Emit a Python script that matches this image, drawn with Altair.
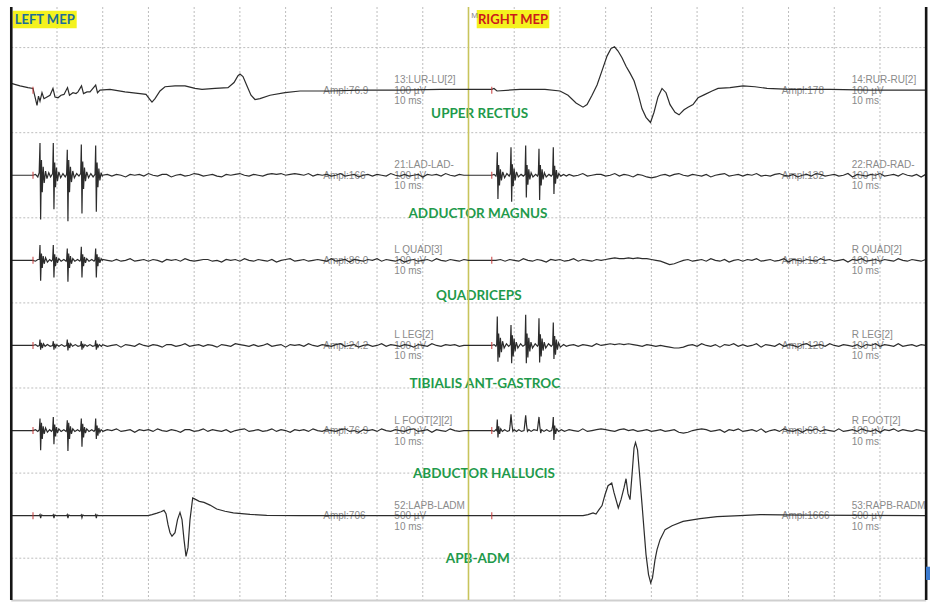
import altair as alt
import numpy as np
import pandas as pd

# ---------------------------------------------------------------------------
# Display geometry: time in ms (10 ms / division, two 100 ms sweeps side by side)
# vertical position in divisions counted downward from the first grid line
# ---------------------------------------------------------------------------
W, H = 931, 602
T_MIN, T_MAX = -2.467, 201.16
R_TOP, R_BOTTOM = -0.5593, 6.5147
FRAME_TOP, FRAME_BOTTOM = -0.477, 6.491
SWEEP_END = 200.0
STIM_LEFT, STIM_RIGHT = 4.75, 105.08

GRID_T = [10, 20, 30, 40, 50, 60, 70, 80, 90, 110, 120, 130, 140, 150, 160, 170, 180, 190]
GRID_R = [0, 1, 2, 3, 4, 5, 6]

# channel annotations
LEFT_NAMES = ["13:LUR-LU[2]", "21:LAD-LAD-", "L QUAD[3]", "L LEG[2]", "L FOOT[2][2]", "52:LAPB-LADM"]
RIGHT_NAMES = ["14:RUR-RU[2]", "22:RAD-RAD-", "R QUAD[2]", "R LEG[2]", "R FOOT[2]", "53:RAPB-RADM"]
SENS_UV = [100, 100, 100, 100, 100, 500]
AMPL_LEFT = ["Ampl:76.9", "Ampl:166", "Ampl:86.0", "Ampl:24.2", "Ampl:76.9", "Ampl:706"]
AMPL_RIGHT = ["Ampl:178", "Ampl:132", "Ampl:16.1", "Ampl:120", "Ampl:60.1", "Ampl:1666"]
MUSCLES = ["UPPER RECTUS", "ADDUCTOR MAGNUS", "QUADRICEPS", "TIBIALIS ANT-GASTROC",
           "ABDUCTOR HALLUCIS", "APB-ADM"]
MUSCLE_T = [102.45, 102.08, 102.26, 103.57, 103.39, 102.04]
MUSCLE_R = [0.78, 1.95, 2.92, 3.95, 5.01, 6.01]

# ---------------------------------------------------------------------------
# Waveforms: (time ms, amplitude µV)
# ---------------------------------------------------------------------------
UR_LEFT = [(0.0, 8), (1.91, 5), (3.66, 3), (4.75, 2), (5.19, -8), (5.63, -18), (5.95, -7),
           (6.28, -13), (6.72, -3), (7.16, -10), (7.81, -8), (8.47, -6), (9.12, 2), (9.56, -8),
           (10.22, -9), (10.88, -6), (11.53, -5), (12.30, 3), (12.73, -6), (13.50, -3),
           (14.16, -4), (14.59, -2), (15.36, 5), (15.80, -4), (16.56, -2), (17.22, -2),
           (18.46, 6), (18.86, -3), (19.41, 0), (21.59, 1), (24.87, -2), (28.15, -4),
           (29.47, -5), (30.34, -11), (30.78, -14), (31.44, -10), (32.53, -1), (33.62, 4),
           (35.81, 5), (38.00, 5), (40.19, 2), (41.72, 1), (44.56, 2), (47.40, 3), (48.72, 9),
           (49.59, 17), (50.03, 19), (50.68, 16), (51.56, 5), (52.43, -6), (53.31, -11),
           (54.40, -10), (56.59, -6), (59.87, -3), (63.15, -1), (69.71, -1), (76.27, 0),
           (85.02, 0), (93.77, 1), (99.89, 1)]
UR_RIGHT = [(104.71, 1), (105.08, 1), (105.58, 2), (106.24, -1), (111.27, 1), (116.73, 1),
            (120.02, -1), (121.77, -6), (123.52, -15), (125.05, -20), (125.93, -17),
            (127.02, -6), (128.12, 6), (129.21, 23), (130.30, 40), (131.18, 49), (131.94, 51),
            (132.71, 46), (133.58, 38), (134.46, 28), (135.33, 20), (136.21, 11), (137.08, -4),
            (137.96, -22), (138.83, -32), (139.81, -38), (140.58, -26), (141.45, -8),
            (142.33, 2), (143.20, -3), (144.08, -17), (145.17, -26), (146.05, -29),
            (147.14, -23), (148.02, -20), (149.11, -17), (150.21, -9), (151.74, -5),
            (153.27, -1), (154.58, 2), (157.20, 3), (160.05, 5), (162.67, 4), (165.30, 2),
            (170.33, 1), (179.08, 1), (187.83, 0), (200.0, 0)]

AD_BURST_L = [(0.0, 0), (4.75, 0), (5.3, 1), (5.8, -2),
              (6.1, 3), (6.28, 38), (6.42, -52), (6.6, 18), (6.78, -20), (6.98, 10), (7.2, -9),
              (7.5, 5), (7.8, -4), (8.2, 3), (8.6, -2),
              (9.05, 2), (9.19, 38), (9.33, -40), (9.5, 15), (9.68, -14), (9.88, 9), (10.1, -7),
              (10.4, 4), (10.8, -3), (11.3, 2), (11.8, -2),
              (12.1, 1), (12.25, 30), (12.39, -54), (12.56, 18), (12.74, -20), (12.94, 10),
              (13.16, -8), (13.45, 5), (13.8, -3), (14.3, 2), (14.8, -1),
              (15.18, 2), (15.32, 36), (15.46, -45), (15.63, 16), (15.81, -16), (16.01, 9),
              (16.23, -7), (16.5, 4), (16.9, -3), (17.4, 2), (17.9, -2),
              (18.32, 1), (18.46, 35), (18.6, -43), (18.77, 15), (18.95, -14), (19.15, 8),
              (19.37, -6), (19.65, 3), (19.9, -1)]
AD_NOISE_L = [0, 1, -1, 1, 0, -2, 1, 0, 1, -1, 2, 0, -1, 1, 1, -2, 0, 1, -1, 0,
              2, 1, -1, 0, 1, -1, -2, 1, 0, 1, 2, 0, -1, 1, 0, -1, 1, 2, 1, 2,
              0, 1, 2, 1, 0, 2, -1, 1, 0, 1, -1, 0, 2, -1, 0, 1, -2, 0, 1, -1,
              1, 0, -1, 2, 0, -1, 1, -1, 0, 1, -2, 1, 0, 1, -1, 2, 0, -1, 1, 0]
AD_BURST_R = [(100.0, 0), (105.08, 0), (105.6, 1), (106.0, -1),
              (106.15, 2), (106.3, 27), (106.44, -28), (106.6, 12), (106.78, -12), (106.98, 7),
              (107.2, -6), (107.5, 4), (107.9, -3), (108.4, 2), (108.9, -1),
              (109.15, 2), (109.3, 33), (109.44, -31), (109.6, 13), (109.78, -13), (109.98, 8),
              (110.2, -6), (110.5, 4), (110.9, -2), (111.5, 1), (112.0, -1),
              (112.37, 1), (112.51, 35), (112.65, -26), (112.81, 12), (112.99, -11),
              (113.19, 7), (113.41, -5), (113.7, 3), (114.1, -2), (114.7, 1), (115.1, -1),
              (115.28, 2), (115.42, 31), (115.56, -29), (115.72, 12), (115.9, -12), (116.1, 7),
              (116.32, -5), (116.6, 3), (117.0, -2), (117.6, 1), (118.1, -1),
              (118.41, 1), (118.55, 33), (118.69, -22), (118.85, 11), (119.03, -10),
              (119.23, 6), (119.45, -4), (119.75, 2), (120.2, -1), (120.8, 1), (121.4, -1)]
AD_NOISE_R = [1, -1, 0, 2, -1, 0, 1, 1, -1, 0, 2, -1, 1, 0, -2, 1, 0, -2, -3, -2,
              0, 1, -1, 1, 2, 0, -1, 1, 0, -1, 1, -2, 0, 1, 2, -1, 0, 1, -1, 1,
              0, 2, -1, 0, -1, 1, 2, 0, -1, 1, -2, 0, 1, -1, 2, 1, -1, 0, 1, -1,
              0, 2, -2, 1, 0, -1, 1, 0, 2, -1, 0, 1, -1, 2, 0, -1, 1, -2, 1]

QD_BURST_L = [(0.0, 0), (4.75, 0), (5.3, -1), (5.8, 1),
              (6.14, 1), (6.28, 18), (6.42, -24), (6.6, 8), (6.78, -9), (6.98, 5), (7.2, -4),
              (7.5, 3), (7.9, -2), (8.4, 1), (8.8, -1),
              (9.05, 1), (9.19, 18), (9.33, -20), (9.5, 7), (9.68, -7), (9.88, 4), (10.1, -3),
              (10.4, 2), (10.9, -1), (11.5, 1), (12.0, -1),
              (12.11, 1), (12.25, 14), (12.39, -25), (12.56, 8), (12.74, -9), (12.94, 5),
              (13.16, -4), (13.45, 2), (13.9, -1), (14.5, 1), (15.0, -1),
              (15.18, 1), (15.32, 16), (15.46, -20), (15.63, 7), (15.81, -7), (16.01, 4),
              (16.23, -3), (16.5, 2), (17.0, -1), (17.6, 1), (18.1, -1),
              (18.32, 1), (18.46, 14), (18.6, -20), (18.77, 7), (18.95, -7), (19.15, 4),
              (19.37, -3), (19.65, 2), (19.9, 0)]
QD_NOISE_L = [1, 0, -1, 1, -1, 0, 2, -1, 0, 1, -1, 1, 0, -2, 1, 0, 1, -1, 2, 0,
              -1, 0, 1, 1, -1, 0, -2, 1, 0, 1, -1, 2, 0, -1, 1, 0, -1, 1, -2, 0,
              1, 2, -1, 0, 1, -1, 0, 1, 0, -1, 2, -1, 0, 1, -2, 1, 0, -1, 1, 0,
              2, -1, 1, 0, -1, 1, -2, 0, 1, -1, 0, 1, -1, 2, 0, -1, 1, 0, -1, 1]
QD_BURST_R = [(100.0, 0), (105.08, 0)]
QD_NOISE_R = [0, 1, -1, 1, 0, -1, 2, 0, -1, 1, 0, -2, 1, 0, 1, -1, 0, 2, -1, 1,
              0, -1, 1, 0, 1, 2, 3, 2, 2, 3, 2, 3, 2, 2, 1, 0, -1, -3, -5, -4,
              -2, 0, 1, -1, 0, 1, -1, 2, 0, -1, 1, -2, 0, 1, -1, 1, 0, 2, -1, 0,
              1, -1, 0, 2, -2, 1, 0, -1, 1, 0, -1, 2, 0, 1, -1, 0, 1, -2, 1, 0,
              2, -1, 0, 1, -1, 1, 0, -1, 2, 0, -1, 1, 0, -1, 1]

TB_BURST_L = [(0.0, 0), (4.75, 0), (5.3, 1), (5.8, -1),
              (6.14, 0), (6.28, 7), (6.42, -5), (6.6, 3), (6.8, -3), (7.05, 2), (7.4, -1),
              (7.9, 1), (8.5, -1),
              (9.05, 0), (9.19, 5), (9.33, -5), (9.5, 2), (9.7, -2), (9.95, 1), (10.4, -1),
              (11.0, 1), (11.6, -1),
              (12.11, 0), (12.25, 7), (12.39, -6), (12.56, 3), (12.76, -3), (13.0, 2),
              (13.4, -1), (14.0, 1), (14.6, -1),
              (15.18, 0), (15.32, 5), (15.46, -5), (15.63, 2), (15.83, -2), (16.1, 1),
              (16.6, -1), (17.2, 1), (17.8, -1),
              (18.32, 0), (18.46, 6), (18.6, -5), (18.77, 2), (18.97, -2), (19.25, 1),
              (19.7, -1)]
TB_NOISE_L = [1, -1, 0, 1, -2, 1, 0, -1, 2, 0, -1, 1, 0, -2, 1, 1, -1, 0, 2, -1,
              0, 1, -1, 1, 0, -2, 1, 0, -1, 2, 1, 0, -1, 1, -1, 0, 2, -1, 0, 1,
              -2, 1, 0, 1, -1, 2, 0, -1, 1, 0, -1, 1, 2, -1, 0, 1, -2, 0, 1, -1,
              0, 2, -1, 1, 0, -1, 1, 0, -2, 1, 0, -1, 2, 0, -1, 1, 0, 1, -1, 0]
TB_BURST_R = [(100.0, 0), (105.08, 0), (105.6, 1), (106.0, -1),
              (106.16, 1), (106.3, 34), (106.44, -19), (106.6, 14), (106.78, -14), (106.98, 9),
              (107.2, -8), (107.45, 5), (107.8, -3), (108.3, 2), (108.8, -1),
              (109.16, 1), (109.3, 24), (109.44, -21), (109.6, 12), (109.78, -13), (109.98, 8),
              (110.2, -7), (110.45, 4), (110.8, -3), (111.4, 2), (111.9, -1),
              (112.37, 1), (112.51, 36), (112.65, -21), (112.81, 14), (112.99, -14),
              (113.19, 9), (113.41, -7), (113.66, 4), (114.0, -3), (114.6, 2), (115.1, -1),
              (115.28, 1), (115.42, 32), (115.56, -20), (115.72, 13), (115.9, -13),
              (116.1, 8), (116.32, -6), (116.57, 4), (116.9, -3), (117.5, 2), (118.1, -1),
              (118.41, 1), (118.55, 27), (118.69, -16), (118.85, 11), (119.03, -11),
              (119.23, 7), (119.45, -5), (119.7, 3), (120.1, -2), (120.8, 1), (121.4, -1)]
TB_NOISE_R = [0, 1, -1, 1, 0, -1, 2, 0, 1, 2, 1, 2, 1, 2, 1, 0, -1, 1, 0, -1,
              0, -1, -2, -3, -3, -2, 0, 1, -1, 2, 0, -1, 1, -2, 1, 0, 2, -1, 1, -1,
              0, 2, -2, 1, 0, -1, 2, -1, 1, 0, -2, 1, 2, -1, 0, 1, -1, 2, 0, -1,
              1, 0, -1, 1, -2, 1, 0, 2, -1, 1, 0, -1, 2, -1, 0, 1, -1, 1, 0]

FT_BURST_L = [(0.0, 0), (4.75, 0), (5.3, 1), (5.8, -1),
              (6.14, 1), (6.28, 14), (6.42, -23), (6.6, 9), (6.78, -10), (6.98, 5), (7.2, -4),
              (7.5, 3), (7.9, -2), (8.4, 1), (8.8, -1),
              (9.05, 1), (9.19, 16), (9.33, -16), (9.5, 7), (9.68, -7), (9.88, 4), (10.1, -3),
              (10.4, 2), (10.9, -1), (11.5, 1), (12.0, -1),
              (12.11, 1), (12.25, 12), (12.39, -24), (12.56, 9), (12.74, -10), (12.94, 5),
              (13.16, -4), (13.45, 2), (13.9, -1), (14.5, 1), (15.0, -1),
              (15.18, 1), (15.32, 14), (15.46, -19), (15.63, 8), (15.81, -8), (16.01, 4),
              (16.23, -3), (16.5, 2), (17.0, -1), (17.6, 1), (18.1, -1),
              (18.32, 1), (18.46, 14), (18.6, -10), (18.77, 6), (18.95, -6), (19.15, 3),
              (19.37, -2), (19.65, 1), (19.9, 0)]
FT_NOISE_L = [-1, 1, 0, 2, -1, 0, 1, -2, 1, 0, 1, -1, 2, 0, -1, 1, 0, -2, 1, 1,
              -1, 0, 2, -1, 1, 0, -1, 1, -2, 0, 1, 2, -1, 0, 1, -1, 0, 2, -1, 1,
              0, -2, 1, 0, 1, -1, 2, 0, -1, 1, 0, -1, 1, 2, -1, 0, -2, 1, 0, 1,
              -1, 2, 0, -1, 1, 0, -1, 1, 2, -1, 0, 1, -2, 1, 0, -1, 2, 0, -1, 0]
FT_BURST_R = [(100.0, 0), (105.08, 0), (105.6, -1), (106.0, 1),
              (106.16, 0), (106.3, 13), (106.45, -8), (106.62, 5), (106.8, -4), (107.05, 2),
              (107.4, -1), (107.9, 1), (108.5, -1), (108.95, 0),
              (109.1, 6), (109.3, 19), (109.5, 7), (109.7, -1), (110.0, 1), (110.5, -1),
              (111.0, 1), (111.6, -1), (112.15, 0),
              (112.3, 7), (112.51, 18), (112.7, 6), (112.9, -1), (113.2, 1), (113.7, -1),
              (114.3, 1), (115.05, 0),
              (115.2, 6), (115.42, 16), (115.6, 5), (115.8, -3), (116.0, 1), (116.5, -1),
              (117.1, 1), (117.7, -1), (118.2, 0),
              (118.4, 5), (118.55, 16), (118.68, -11), (118.85, 6), (119.05, -4), (119.3, 2),
              (119.7, -1), (120.3, 1), (121.0, -1), (121.5, 0)]
FT_NOISE_R = [1, 0, -1, 2, -1, 0, 1, 2, 1, 0, -1, 1, 2, 0, 1, -1, 0, 1, -1, 0,
              1, -1, 0, 1, -2, -3, -2, 0, 1, 2, 1, -1, 0, 1, -2, 1, 0, 2, -1, 0,
              1, -1, 2, -2, 0, 1, -1, 2, 0, -1, 1, -2, 1, 0, 2, -1, 1, 0, -1, 2,
              -1, 0, 1, -1, 2, 0, -1, 1, -2, 1, 0, 2, -1, 1, 0, -1, 1, 0, -1]

AP_LEFT = [(0.0, 0), (4.75, 0), (6.14, 0), (6.28, 6), (6.42, -15), (6.6, 3), (6.9, 0),
           (9.05, 0), (9.19, 5), (9.33, -14), (9.5, 3), (9.8, 0), (12.11, 0), (12.25, 6),
           (12.39, -15), (12.56, 3), (12.86, 0), (15.18, 0), (15.32, 5), (15.46, -12),
           (15.63, 3), (15.93, 0), (18.32, 0), (18.46, 6), (18.6, -14), (18.77, 3), (19.07, 0),
           (29.91, 0), (30.78, 6), (31.87, 15), (32.75, 23), (33.40, 31), (33.84, 12),
           (34.28, -53), (34.72, -100), (35.15, -121), (35.81, -100), (36.36, -23),
           (36.90, 19), (37.34, -23), (37.78, -141), (38.22, -239), (38.65, -188),
           (39.09, -23), (39.68, 104), (40.40, 94), (41.12, 84), (42.15, 78), (43.46, 62),
           (44.93, 39), (46.75, 26), (48.56, 16), (52.21, 7), (55.87, 2), (63.15, 0),
           (100.0, 0)]
AP_RIGHT = [(105.08, 0), (125.05, 0), (126.14, 6), (127.24, 16), (127.89, 9), (128.55, 35),
            (129.21, 59), (129.86, 123), (130.52, 176), (131.33, 192), (131.83, 135),
            (132.77, 45), (133.36, 94), (134.02, 164), (134.46, 217), (134.89, 129),
            (135.33, 94), (135.77, 240), (136.21, 399), (136.53, 430), (136.97, 387),
            (137.52, 211), (137.96, 65), (138.39, -82), (138.83, -229), (139.38, -346),
            (139.86, -395), (140.25, -364), (140.80, -258), (141.24, -200), (141.90, -141),
            (143.00, -82), (144.53, -59), (146.93, -34), (150.65, -18), (154.37, -6),
            (159.40, 0), (163.77, 6), (172.52, 3), (200.0, 0)]


def sampled(t_start, values, step=1.0):
    """Baseline samples recorded every `step` ms from t_start."""
    return [(t_start + step * i, v) for i, v in enumerate(values)]


CHANNELS = [
    UR_LEFT + UR_RIGHT,
    AD_BURST_L + sampled(20, AD_NOISE_L) + AD_BURST_R + sampled(122, AD_NOISE_R),
    QD_BURST_L + sampled(20, QD_NOISE_L) + QD_BURST_R + sampled(106, QD_NOISE_R),
    TB_BURST_L + sampled(20, TB_NOISE_L) + TB_BURST_R + sampled(122, TB_NOISE_R),
    FT_BURST_L + sampled(20, FT_NOISE_L) + FT_BURST_R + sampled(122, FT_NOISE_R),
    AP_LEFT + AP_RIGHT,
]

rows = []
for ch, pts in enumerate(CHANNELS):
    for t, uv in pts:
        if t <= SWEEP_END:
            rows.append({"ch": ch, "t": t, "r": ch + 0.5 - uv / SENS_UV[ch]})
traces = pd.DataFrame(rows)

x_scale = alt.Scale(domain=[T_MIN, T_MAX], nice=False, zero=False)
y_scale = alt.Scale(domain=[R_TOP, R_BOTTOM], reverse=True, nice=False, zero=False)
X = lambda f="t": alt.X(f"{f}:Q", scale=x_scale, axis=None)
Y = lambda f="r": alt.Y(f"{f}:Q", scale=y_scale, axis=None)

# --- grid -------------------------------------------------------------------
vgrid = alt.Chart(pd.DataFrame({"t": GRID_T, "r": FRAME_TOP, "r2": FRAME_BOTTOM})).mark_rule(
    color="#bdbdbd", strokeWidth=1, strokeDash=[2, 2]
).encode(x=X(), y=Y(), y2="r2:Q")
hgrid = alt.Chart(pd.DataFrame({"r": GRID_R, "t": 0.0, "t2": SWEEP_END})).mark_rule(
    color="#bdbdbd", strokeWidth=1, strokeDash=[2, 2]
).encode(y=Y(), x=X(), x2="t2:Q")

frame = pd.DataFrame({"t": [0.0, 200.1], "r": FRAME_TOP, "r2": FRAME_BOTTOM})
borders = alt.Chart(frame).mark_rule(color="#151515", strokeWidth=2.6).encode(
    x=X(), y=Y(), y2="r2:Q")
bottom = alt.Chart(pd.DataFrame({"r": [6.497], "t": 0.0, "t2": 200.1})).mark_rule(
    color="#cfcfcf", strokeWidth=2).encode(y=Y(), x=X(), x2="t2:Q")
scroll = alt.Chart(pd.DataFrame({"t": [200.07], "t2": [200.94], "r": [6.10], "r2": [6.256]})).mark_rect(
    color="#3c7bd0").encode(x=X(), x2="t2:Q", y=Y(), y2="r2:Q")

center = alt.Chart(pd.DataFrame({"t": [100.0], "r": FRAME_TOP, "r2": FRAME_BOTTOM})).mark_rule(
    color="#c8c45c", strokeWidth=1.6).encode(x=X(), y=Y(), y2="r2:Q")

# --- channel captions (three stacked lines plus amplitude readout) -----------
cap_rows = []
for ch in range(6):
    base = ch + 0.5
    unit = f"{SENS_UV[ch]} µV"
    for t0, name, ampl, ta in ((83.78, LEFT_NAMES[ch], AMPL_LEFT[ch], 68.24),
                               (183.82, RIGHT_NAMES[ch], AMPL_RIGHT[ch], 168.51)):
        cap_rows.append({"t": t0, "r": base - 0.1175, "txt": name})
        cap_rows.append({"t": t0, "r": base + 0.006, "txt": unit})
        cap_rows.append({"t": t0, "r": base + 0.129, "txt": "10 ms"})
        cap_rows.append({"t": ta, "r": base + 0.006, "txt": ampl})
captions = alt.Chart(pd.DataFrame(cap_rows)).mark_text(
    align="left", baseline="middle", font="Liberation Sans", fontSize=10, color="#8a8a8a"
).encode(x=X(), y=Y(), text="txt:N")

muscles = alt.Chart(pd.DataFrame({"t": MUSCLE_T, "r": MUSCLE_R, "txt": MUSCLES})).mark_text(
    align="center", baseline="middle", font="Lato", fontSize=13.5, fontWeight="bold",
    color="#1f9a4b"
).encode(x=X(), y=Y(), text="txt:N")

# --- sweep headers -----------------------------------------------------------
boxes = alt.Chart(pd.DataFrame({"t": [0.31, 101.80], "t2": [14.31, 117.68],
                                "r": [-0.434, -0.442], "r2": [-0.227, -0.227]})).mark_rect(
    color="#f4f21e").encode(x=X(), x2="t2:Q", y=Y(), y2="r2:Q")
headers = alt.Chart(pd.DataFrame({"t": [7.31, 109.74], "r": [-0.33, -0.33],
                                  "txt": ["LEFT MEP", "RIGHT MEP"],
                                  "col": ["#1c6e98", "#cc1a1a"]})).mark_text(
    align="center", baseline="middle", font="Lato", fontSize=13, fontWeight="bold"
).encode(x=X(), y=Y(), text="txt:N", color=alt.Color("col:N", scale=None))
mark_m = alt.Chart(pd.DataFrame({"t": [100.6], "r": [-0.372], "txt": ["M"]})).mark_text(
    align="left", baseline="middle", font="Liberation Sans", fontSize=8, color="#8a8a8a"
).encode(x=X(), y=Y(), text="txt:N")

# --- traces and stimulus markers ------------------------------------------
lines = alt.Chart(traces).mark_line(color="#2c2c2c", strokeWidth=1.2, interpolate="linear").encode(
    x=X(), y=Y(), detail="ch:N", order="t:Q")

stim = pd.DataFrame([{"t": s, "r": ch + 0.5} for ch in range(6) for s in (STIM_LEFT, STIM_RIGHT)])
markers = alt.Chart(stim).mark_tick(orient="vertical", size=7, thickness=1.4, color="#c43a3a").encode(
    x=X(), y=Y())

chart = alt.layer(
    vgrid, hgrid, bottom, boxes, mark_m, headers, captions, muscles, center,
    lines, markers, borders, scroll
).properties(
    width=W, height=H, padding=0, autosize=alt.AutoSizeParams(type="none"), background="white"
).configure_view(stroke=None)

chart.save("out.html", embed_options={"renderer": "svg", "actions": False})
